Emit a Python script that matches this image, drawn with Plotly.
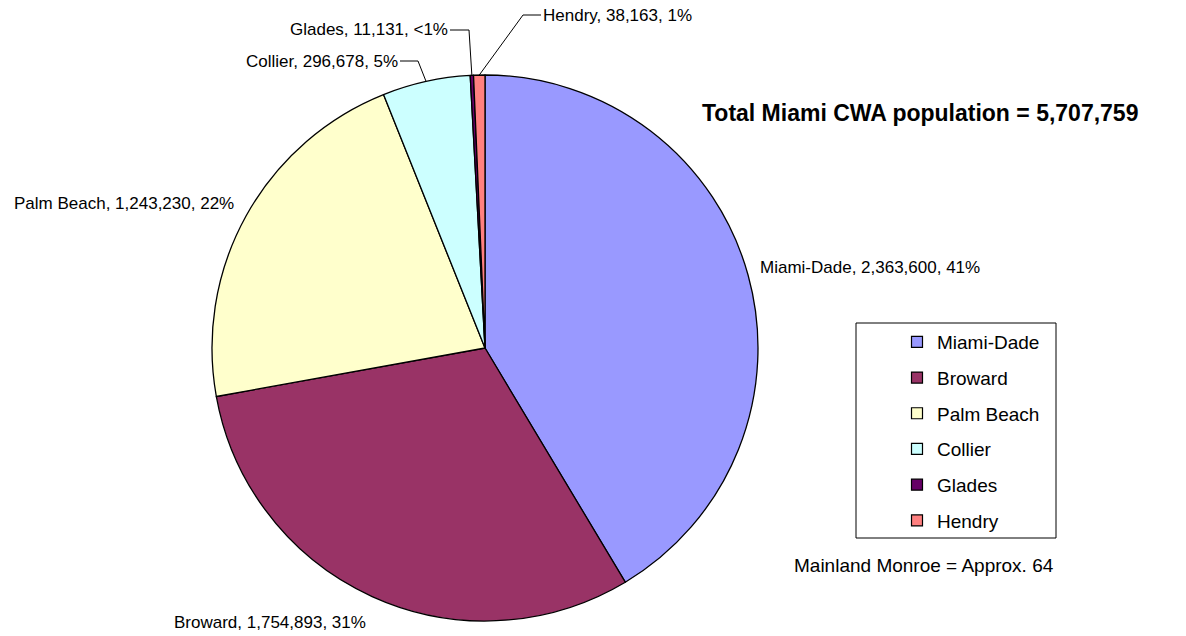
import math
import plotly.graph_objects as go

# Data
counties = ["Miami-Dade", "Broward", "Palm Beach", "Collier", "Glades", "Hendry"]
population = [2363600, 1754893, 1243230, 296678, 11131, 38163]
colors = ["#9999FF", "#993366", "#FFFFCC", "#CCFFFF", "#660066", "#FF8080"]
monroe_pop = 64

W, H = 1186, 636
CX, CY, R = 485, 348, 273  # pie centre / radius in pixels


def px(x):
    return x / W


def py(y):
    return 1 - y / H


total = sum(population)
grand_total = total + monroe_pop


def pct_text(v):
    p = round(v / total * 100)
    return "<1%" if p < 1 else f"{p}%"


labels_text = [f"{c}, {v:,}, {pct_text(v)}" for c, v in zip(counties, population)]

# label placement: (x, y, xanchor, leader elbow x or None)
label_pos = {
    "Miami-Dade": (758, 267, "left", None),
    "Broward": (172, 622, "left", None),
    "Palm Beach": (12, 204, "left", None),
    "Collier": (400, 61, "right", 418),
    "Glades": (450, 30, "right", 469),
    "Hendry": (541, 15, "left", 523),
}

fig = go.Figure()

fig.add_trace(go.Pie(
    labels=counties,
    values=population,
    sort=False,
    direction="clockwise",
    rotation=0,
    marker=dict(colors=colors, line=dict(color="black", width=1.3)),
    textinfo="none",
    showlegend=False,
    domain=dict(x=[px(CX - R), px(CX + R)], y=[py(CY + R), py(CY - R)]),
))

# legend entries
for i, (c, col) in enumerate(zip(counties, colors)):
    fig.add_trace(go.Scatter(
        x=[None], y=[None], mode="markers", name=c, legendgroup=c,
        marker=dict(symbol="square", size=11, color=col, line=dict(color="black", width=1.2)),
    ))

annotations = []
shapes = []
cum = 0
for c, v, txt in zip(counties, population, labels_text):
    mid = (cum + v / 2) / total * 2 * math.pi
    cum += v
    lx, ly, anchor, elbow = label_pos[c]
    annotations.append(dict(
        x=px(lx), y=py(ly), xref="paper", yref="paper", text=txt, showarrow=False,
        xanchor=anchor, yanchor="middle", font=dict(family="Arial", size=17, color="black"),
    ))
    if elbow is not None:
        ax = CX + R * math.sin(mid)
        ay = CY - R * math.cos(mid)
        path = f"M {px(lx)} {py(ly)} L {px(elbow)} {py(ly)} L {px(ax)} {py(ay)}"
        shapes.append(dict(type="path", path=path, xref="paper", yref="paper",
                           line=dict(color="black", width=1)))

annotations.append(dict(
    x=px(700), y=py(113), xref="paper", yref="paper",
    text=f"<b>Total Miami CWA population = {grand_total:,}</b>", showarrow=False,
    xanchor="left", yanchor="middle", font=dict(family="Arial", size=23, color="black"),
))
annotations.append(dict(
    x=px(792), y=py(565), xref="paper", yref="paper",
    text=f"Mainland Monroe = Approx. {monroe_pop}", showarrow=False,
    xanchor="left", yanchor="middle", font=dict(family="Arial", size=19, color="black"),
))

# legend frame
shapes.append(dict(type="rect", xref="paper", yref="paper",
                   x0=px(856), x1=px(1056), y0=py(538), y1=py(323),
                   line=dict(color="black", width=1), fillcolor="rgba(0,0,0,0)"))

fig.update_layout(
    width=W, height=H,
    margin=dict(l=0, r=0, t=0, b=0),
    paper_bgcolor="white", plot_bgcolor="white",
    xaxis=dict(visible=False), yaxis=dict(visible=False),
    showlegend=True,
    legend=dict(
        x=px(897), y=py(323), xanchor="left", yanchor="top",
        font=dict(family="Arial", size=19, color="black"),
        tracegroupgap=8, traceorder="grouped",
        bgcolor="rgba(0,0,0,0)", borderwidth=0,
    ),
    annotations=annotations,
    shapes=shapes,
)

fig.write_html("out.html", config={"displayModeBar": False},
               post_script="document.body.style.margin='0';")
